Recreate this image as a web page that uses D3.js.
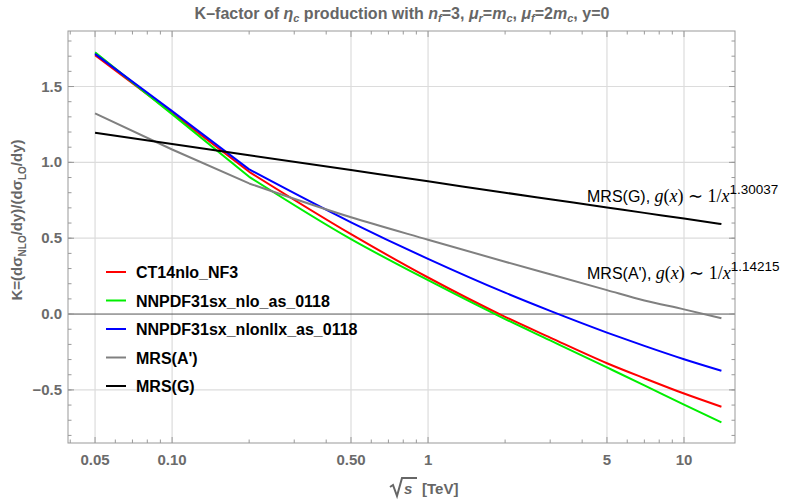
<!DOCTYPE html>
<html>
<head>
<meta charset="utf-8">
<script src="https://cdn.jsdelivr.net/npm/d3@7"></script>
<style>
  body { margin: 0; background: #fff; }
  svg { font-family: "Liberation Sans", Arial, sans-serif; }
  .tick-label { font-size: 15px; font-weight: bold; fill: #6b6b6b; }
  .legend text { font-size: 16px; font-weight: bold; fill: #000; }
</style>
</head>
<body>
<script>
var w = 799
var h = 501

// sqrt(s) in TeV
var energies = [0.05, 0.1, 0.2, 0.5, 1, 2, 3, 5, 7, 10, 14]

// K-factor per PDF set
var ct14 = [1.707, 1.325, 0.938, 0.527, 0.241, -0.018, -0.155, -0.324, -0.423, -0.524, -0.611]
var nnpdfNlo = [1.725, 1.318, 0.905, 0.494, 0.223, -0.033, -0.174, -0.352, -0.47, -0.597, -0.714]
var nnpdfNllx = [1.715, 1.338, 0.954, 0.605, 0.364, 0.141, 0.021, -0.122, -0.21, -0.298, -0.374]
var mrsA = [1.323, 1.085, 0.861, 0.638, 0.49, 0.345, 0.262, 0.158, 0.09, 0.031, -0.028]
var mrsG = [1.195, 1.121, 1.047, 0.949, 0.875, 0.80, 0.757, 0.703, 0.667, 0.630, 0.593]

var seriesNames = ["CT14nlo_NF3", "NNPDF31sx_nlo_as_0118", "NNPDF31sx_nlonllx_as_0118", "MRS(A')", "MRS(G)"]
var seriesValues = [ct14, nnpdfNlo, nnpdfNllx, mrsA, mrsG]
var seriesColors = ["#ff0000", "#00ee00", "#0000ff", "#808080", "#000000"]

var xMajor = [0.05, 0.1, 0.5, 1, 5, 10]
var xMajorLabels = ["0.05", "0.10", "0.50", "1", "5", "10"]
var xMinor = [0.04, 0.06, 0.07, 0.08, 0.09, 0.2, 0.3, 0.4, 0.6, 0.7, 0.8, 0.9, 2, 3, 4, 6, 7, 8, 9]
var yMajor = [-0.5, 0, 0.5, 1, 1.5]
var yMajorLabels = ["\u22120.5", "0.0", "0.5", "1.0", "1.5"]
var yMinor = d3.range(-8, 19).map(function (i) { return i / 10 })

var pLeft = 68, pRight = 735, pTop = 31, pBottom = 443

var x = d3.scaleLog().domain([0.0392, 15.82]).range([pLeft, pRight])
var y = d3.scaleLinear().domain([-0.85, 1.866]).range([pBottom, pTop])

var svg = d3.select("body").append("svg")
  .attr("width", w)
  .attr("height", h)

// grid
svg.selectAll("line.vgrid").data(xMajor).enter().append("line")
  .attr("x1", function (d) { return x(d) }).attr("x2", function (d) { return x(d) })
  .attr("y1", pTop).attr("y2", pBottom)
  .attr("stroke", "#dcdcdc").attr("stroke-width", 1.2)
svg.selectAll("line.hgrid").data(yMajor.filter(function (d) { return d != 0 })).enter().append("line")
  .attr("x1", pLeft).attr("x2", pRight)
  .attr("y1", function (d) { return y(d) }).attr("y2", function (d) { return y(d) })
  .attr("stroke", "#dcdcdc").attr("stroke-width", 1.2)

// zero axis
svg.append("line")
  .attr("x1", pLeft).attr("x2", pRight)
  .attr("y1", y(0)).attr("y2", y(0))
  .attr("stroke", "#555").attr("stroke-width", 1)

// frame ticks on all four sides, pointing inward
function xTicks(vals, len) {
  vals.forEach(function (d) {
    svg.append("line").attr("x1", x(d)).attr("x2", x(d)).attr("y1", pBottom).attr("y2", pBottom - len)
      .attr("stroke", "#999")
    svg.append("line").attr("x1", x(d)).attr("x2", x(d)).attr("y1", pTop).attr("y2", pTop + len)
      .attr("stroke", "#999")
  })
}
function yTicks(vals, len) {
  vals.forEach(function (d) {
    svg.append("line").attr("x1", pLeft).attr("x2", pLeft + len).attr("y1", y(d)).attr("y2", y(d))
      .attr("stroke", "#999")
    svg.append("line").attr("x1", pRight).attr("x2", pRight - len).attr("y1", y(d)).attr("y2", y(d))
      .attr("stroke", "#999")
  })
}
xTicks(xMajor, 6)
xTicks(xMinor, 3.5)
yTicks(yMajor, 6)
yTicks(yMinor, 3.5)

svg.append("rect")
  .attr("x", pLeft).attr("y", pTop)
  .attr("width", pRight - pLeft).attr("height", pBottom - pTop)
  .attr("fill", "none").attr("stroke", "#999").attr("stroke-width", 1)

// tick labels
svg.selectAll("text.xl").data(xMajor).enter().append("text")
  .attr("class", "tick-label")
  .attr("x", function (d) { return x(d) })
  .attr("y", 465)
  .attr("text-anchor", "middle")
  .text(function (d, i) { return xMajorLabels[i] })
svg.selectAll("text.yl").data(yMajor).enter().append("text")
  .attr("class", "tick-label")
  .attr("x", 62)
  .attr("y", function (d) { return y(d) + 5 })
  .attr("text-anchor", "end")
  .text(function (d, i) { return yMajorLabels[i] })

// curves: straight up to 0.2 TeV, smooth beyond
var straight = d3.line()
  .x(function (d) { return x(d[0]) })
  .y(function (d) { return y(d[1]) })
var smooth = d3.line()
  .curve(d3.curveMonotoneX)
  .x(function (d) { return x(d[0]) })
  .y(function (d) { return y(d[1]) })

seriesValues.forEach(function (vals, i) {
  var pts = energies.map(function (e, j) { return [e, vals[j]] })
  svg.append("path")
    .attr("fill", "none")
    .attr("stroke", seriesColors[i])
    .attr("stroke-width", 2)
    .attr("stroke-linejoin", "round")
    .attr("d", straight(pts.slice(0, 3)) + smooth(pts.slice(2)))
})

// title
var title = svg.append("text")
  .attr("x", 402).attr("y", 19)
  .attr("text-anchor", "middle")
  .style("font-size", "16px").style("font-weight", "bold").style("fill", "#666")
function sub(sel, txt) {
  sel.append("tspan").attr("dy", 3).style("font-size", "11px").style("font-style", "italic").text(txt)
}
title.append("tspan").text("K\u2013factor of ")
title.append("tspan").style("font-style", "italic").text("\u03b7")
sub(title, "c")
title.append("tspan").attr("dy", -3).text(" production with ")
title.append("tspan").style("font-style", "italic").text("n")
sub(title, "f")
title.append("tspan").attr("dy", -3).text("=3, ")
title.append("tspan").style("font-style", "italic").text("\u03bc")
sub(title, "r")
title.append("tspan").attr("dy", -3).text("=")
title.append("tspan").style("font-style", "italic").text("m")
sub(title, "c")
title.append("tspan").attr("dy", -3).text(", ")
title.append("tspan").style("font-style", "italic").text("\u03bc")
sub(title, "f")
title.append("tspan").attr("dy", -3).text("=2")
title.append("tspan").style("font-style", "italic").text("m")
sub(title, "c")
title.append("tspan").attr("dy", -3).text(", y=0")

// y axis title
var yTitle = svg.append("text")
  .attr("transform", "translate(22," + 220 + ") rotate(-90)")
  .attr("text-anchor", "middle")
  .style("font-size", "15px").style("font-weight", "bold").style("fill", "#666")
yTitle.append("tspan").text("K=(d\u03c3")
yTitle.append("tspan").attr("dy", 4).style("font-size", "10px").text("NLO")
yTitle.append("tspan").attr("dy", -4).text("/dy)/(d\u03c3")
yTitle.append("tspan").attr("dy", 4).style("font-size", "10px").text("LO")
yTitle.append("tspan").attr("dy", -4).text("/dy)")

// x axis title: sqrt(s) [TeV]
var xt = svg.append("g").attr("transform", "translate(390,0)")
xt.append("path")
  .attr("d", "M0,487 L3,485 L7,496 L12,478 L27,478")
  .attr("fill", "none").attr("stroke", "#666").attr("stroke-width", 2)
xt.append("text").attr("x", 14).attr("y", 494)
  .style("font-size", "15px").style("font-weight", "bold").style("font-style", "italic").style("fill", "#666")
  .text("s")
xt.append("text").attr("x", 32).attr("y", 494)
  .style("font-size", "15px").style("font-weight", "bold").style("fill", "#666")
  .text("[TeV]")

// legend
var legend = svg.append("g").attr("class", "legend")
seriesNames.forEach(function (name, i) {
  var ly = 272 + i * 28.5
  legend.append("line")
    .attr("x1", 106).attr("x2", 126).attr("y1", ly).attr("y2", ly)
    .attr("stroke", seriesColors[i]).attr("stroke-width", 2)
  legend.append("text").attr("x", 136).attr("y", ly + 6).text(name)
})

// curve annotations
var notes = [["MRS(G), ", "1.30037", 202], ["MRS(A'), ", "1.14215", 279]]
notes.forEach(function (n) {
  var t = svg.append("text").attr("x", 587).attr("y", n[2]).style("font-size", "16px").style("fill", "#000")
  var serif = "'Liberation Serif', serif"
  t.append("tspan").text(n[0])
  t.append("tspan").style("font-family", serif).style("font-style", "italic").style("font-size", "18px").text("g")
  t.append("tspan").style("font-family", serif).style("font-size", "18px").text("(")
  t.append("tspan").style("font-family", serif).style("font-style", "italic").style("font-size", "18px").text("x")
  t.append("tspan").style("font-family", serif).style("font-size", "18px").text(") \u223c 1/")
  t.append("tspan").style("font-family", serif).style("font-style", "italic").style("font-size", "18px").text("x")
  t.append("tspan").attr("dy", -8).style("font-size", "13.5px").text(n[1])
})
</script>
</body>
</html>
